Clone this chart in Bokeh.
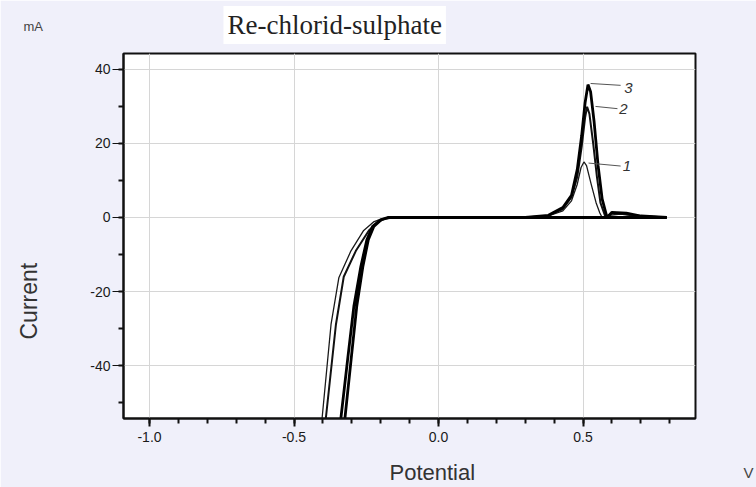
from bokeh.plotting import figure
from bokeh.models import Label, Title, FixedTicker, NumeralTickFormatter, Range1d
from bokeh.embed import file_html
from bokeh.resources import INLINE

# ---- data ----
# curve 1 (thin)
pot_1 = [-0.41, -0.403, -0.372, -0.345, -0.303, -0.259, -0.225, -0.195, -0.16, 0.0, 0.30, 0.38, 0.43,
         0.46, 0.48, 0.493, 0.503, 0.512, 0.528, 0.545, 0.558, 0.566, 0.59, 0.63, 0.68, 0.79]
cur_1 = [-60, -54.3, -28.9, -16.3, -9.0, -3.5, -1.2, -0.3, 0.0, 0.0, 0.0, 0.4, 1.8,
         4.5, 9.0, 13.5, 15.0, 14.0, 9.0, 4.0, 1.2, 0.0, 0.6, 0.9, 0.4, 0.0]
# curve 2 (medium)
pot_2 = [-0.40, -0.39, -0.355, -0.328, -0.286, -0.241, -0.21, -0.185, -0.15, 0.0, 0.30, 0.38, 0.43,
         0.46, 0.48, 0.495, 0.507, 0.514, 0.522, 0.535, 0.548, 0.56, 0.578, 0.60, 0.64, 0.70, 0.79]
cur_2 = [-60, -54.3, -28.9, -16.0, -9.0, -3.5, -1.2, -0.3, 0.0, 0.0, 0.0, 0.5, 2.3,
         5.5, 11.0, 19.0, 27.0, 29.9, 28.0, 20.0, 11.0, 4.0, 0.0, 1.2, 1.0, 0.4, 0.0]
# curve 3 (thick, two cathodic branches)
pot_3 = [-0.342, -0.338, -0.314, -0.293, -0.269, -0.248, -0.228, -0.20, -0.176, 0.0, 0.30, 0.38, 0.43,
         0.46, 0.48, 0.495, 0.507, 0.517, 0.526, 0.538, 0.552, 0.566, 0.583, 0.60, 0.65, 0.70, 0.79,
         0.70, 0.0, -0.17, -0.198, -0.224, -0.243, -0.262, -0.283, -0.302, -0.324, -0.328]
cur_3 = [-60, -54.3, -38.0, -24.0, -13.3, -6.0, -2.4, -0.6, 0.0, 0.0, 0.0, 0.6, 2.7,
         6.0, 13.0, 22.0, 31.0, 35.9, 34.0, 26.0, 14.0, 5.0, 0.0, 1.4, 1.2, 0.4, 0.0,
         0.0, 0.0, 0.0, -0.6, -2.4, -6.0, -13.3, -24.0, -38.0, -54.3, -60]

curve_names = ["1", "2", "3"]
label_pot = [0.652, 0.640, 0.657]
label_cur = [13.9, 29.2, 35.1]
leader_pot = [[0.519, 0.63], [0.543, 0.619], [0.526, 0.63]]
leader_cur = [[14.7, 13.9], [30.0, 29.4], [36.2, 35.7]]

x_major = [-1.0, -0.5, 0.0, 0.5]
x_minor = [-1.0, -0.9, -0.8, -0.7, -0.6, -0.5, -0.4, -0.3, -0.2, -0.1, 0.0, 0.1, 0.2, 0.3, 0.4, 0.5, 0.6, 0.7, 0.8]
y_major = [-40, -20, 0, 20, 40]
y_minor = [-50, -40, -30, -20, -10, 0, 10, 20, 30, 40]

title_text = "Re-chlorid-sulphate"
x_title = "Potential"
y_title = "Current"
x_unit = "V"
y_unit = "mA"

BG = "#f0f0fa"

p = figure(width=756, height=487, output_backend="svg", toolbar_location=None,
           x_range=Range1d(-1.09, 0.889), y_range=Range1d(-54.3, 44.3),
           min_border_left=123, min_border_right=61, min_border_top=53, min_border_bottom=69)
p.title.visible = False
p.border_fill_color = BG
p.background_fill_color = "white"
p.outline_line_color = "#111111"
p.outline_line_width = 2

for ax in (p.xaxis[0], p.yaxis[0]):
    ax.axis_line_color = "#111111"
    ax.axis_line_width = 2
    ax.major_tick_line_color = "#111111"
    ax.minor_tick_line_color = "#111111"
    ax.major_tick_in = 0
    ax.minor_tick_in = 0
    ax.major_label_text_font = "Liberation Sans"
    ax.major_label_text_font_size = "14px"
    ax.major_label_text_color = "#1a1a1a"

p.xaxis[0].ticker = FixedTicker(ticks=x_major, minor_ticks=x_minor)
p.xaxis[0].formatter = NumeralTickFormatter(format="0.0")
p.xaxis[0].major_tick_out = 8
p.xaxis[0].major_tick_line_width = 2
p.xaxis[0].minor_tick_out = 5
p.xaxis[0].minor_tick_line_width = 2
p.xaxis[0].major_label_standoff = 5

p.yaxis[0].ticker = FixedTicker(ticks=y_major, minor_ticks=y_minor)
p.yaxis[0].formatter = NumeralTickFormatter(format="0")
p.yaxis[0].major_tick_out = 11
p.yaxis[0].major_tick_line_width = 1
p.yaxis[0].minor_tick_out = 5
p.yaxis[0].minor_tick_line_width = 2
p.yaxis[0].major_label_standoff = 2

p.xgrid[0].grid_line_color = "#d6d6d6"
p.ygrid[0].grid_line_color = "#d6d6d6"
p.xgrid[0].ticker = p.xaxis[0].ticker
p.ygrid[0].ticker = p.yaxis[0].ticker

p.line(pot_1, cur_1, line_color="#1a1a1a", line_width=1.3)
p.line(pot_2, cur_2, line_color="#111111", line_width=2.0)
p.line(pot_3, cur_3, line_color="#000000", line_width=2.8)

for i, name in enumerate(curve_names):
    p.line(leader_pot[i], leader_cur[i], line_color="#555555", line_width=1)
    p.add_layout(Label(x=label_pot[i], y=label_cur[i], text=name, text_font="Liberation Sans",
                       text_font_size="15px", text_font_style="italic", text_color="#333333",
                       text_align="center", text_baseline="middle"))

# top: main title and unit (negative standoff -> no panel space taken)
p.add_layout(Title(text=title_text, align="left", offset=100, standoff=-95, vertical_align="top",
                   text_font="Liberation Serif", text_font_size="27px", text_font_style="normal",
                   text_color="#222222", background_fill_color="white", padding=4), "above")
p.add_layout(Title(text=y_unit, align="left", offset=-100, standoff=-69, vertical_align="top",
                   text_font="Liberation Sans", text_font_size="13px", text_font_style="normal",
                   text_color="#444444"), "above")

# left: axis title
p.add_layout(Title(text=y_title, align="left", offset=79, standoff=-143, vertical_align="top",
                   text_font="Liberation Sans", text_font_size="23px", text_font_style="normal",
                   text_color="#333333"), "left")

# bottom: axis title and unit
p.add_layout(Title(text=x_title, align="left", offset=266, standoff=-80, vertical_align="bottom",
                   text_font="Liberation Sans", text_font_size="22px", text_font_style="normal",
                   text_color="#333333"), "below")
p.add_layout(Title(text=x_unit, align="right", offset=-58, standoff=-73, vertical_align="bottom",
                   text_font="Liberation Sans", text_font_size="15px", text_font_style="normal",
                   text_color="#444444"), "below")

open("out.html", "w").write(file_html(p, INLINE))
